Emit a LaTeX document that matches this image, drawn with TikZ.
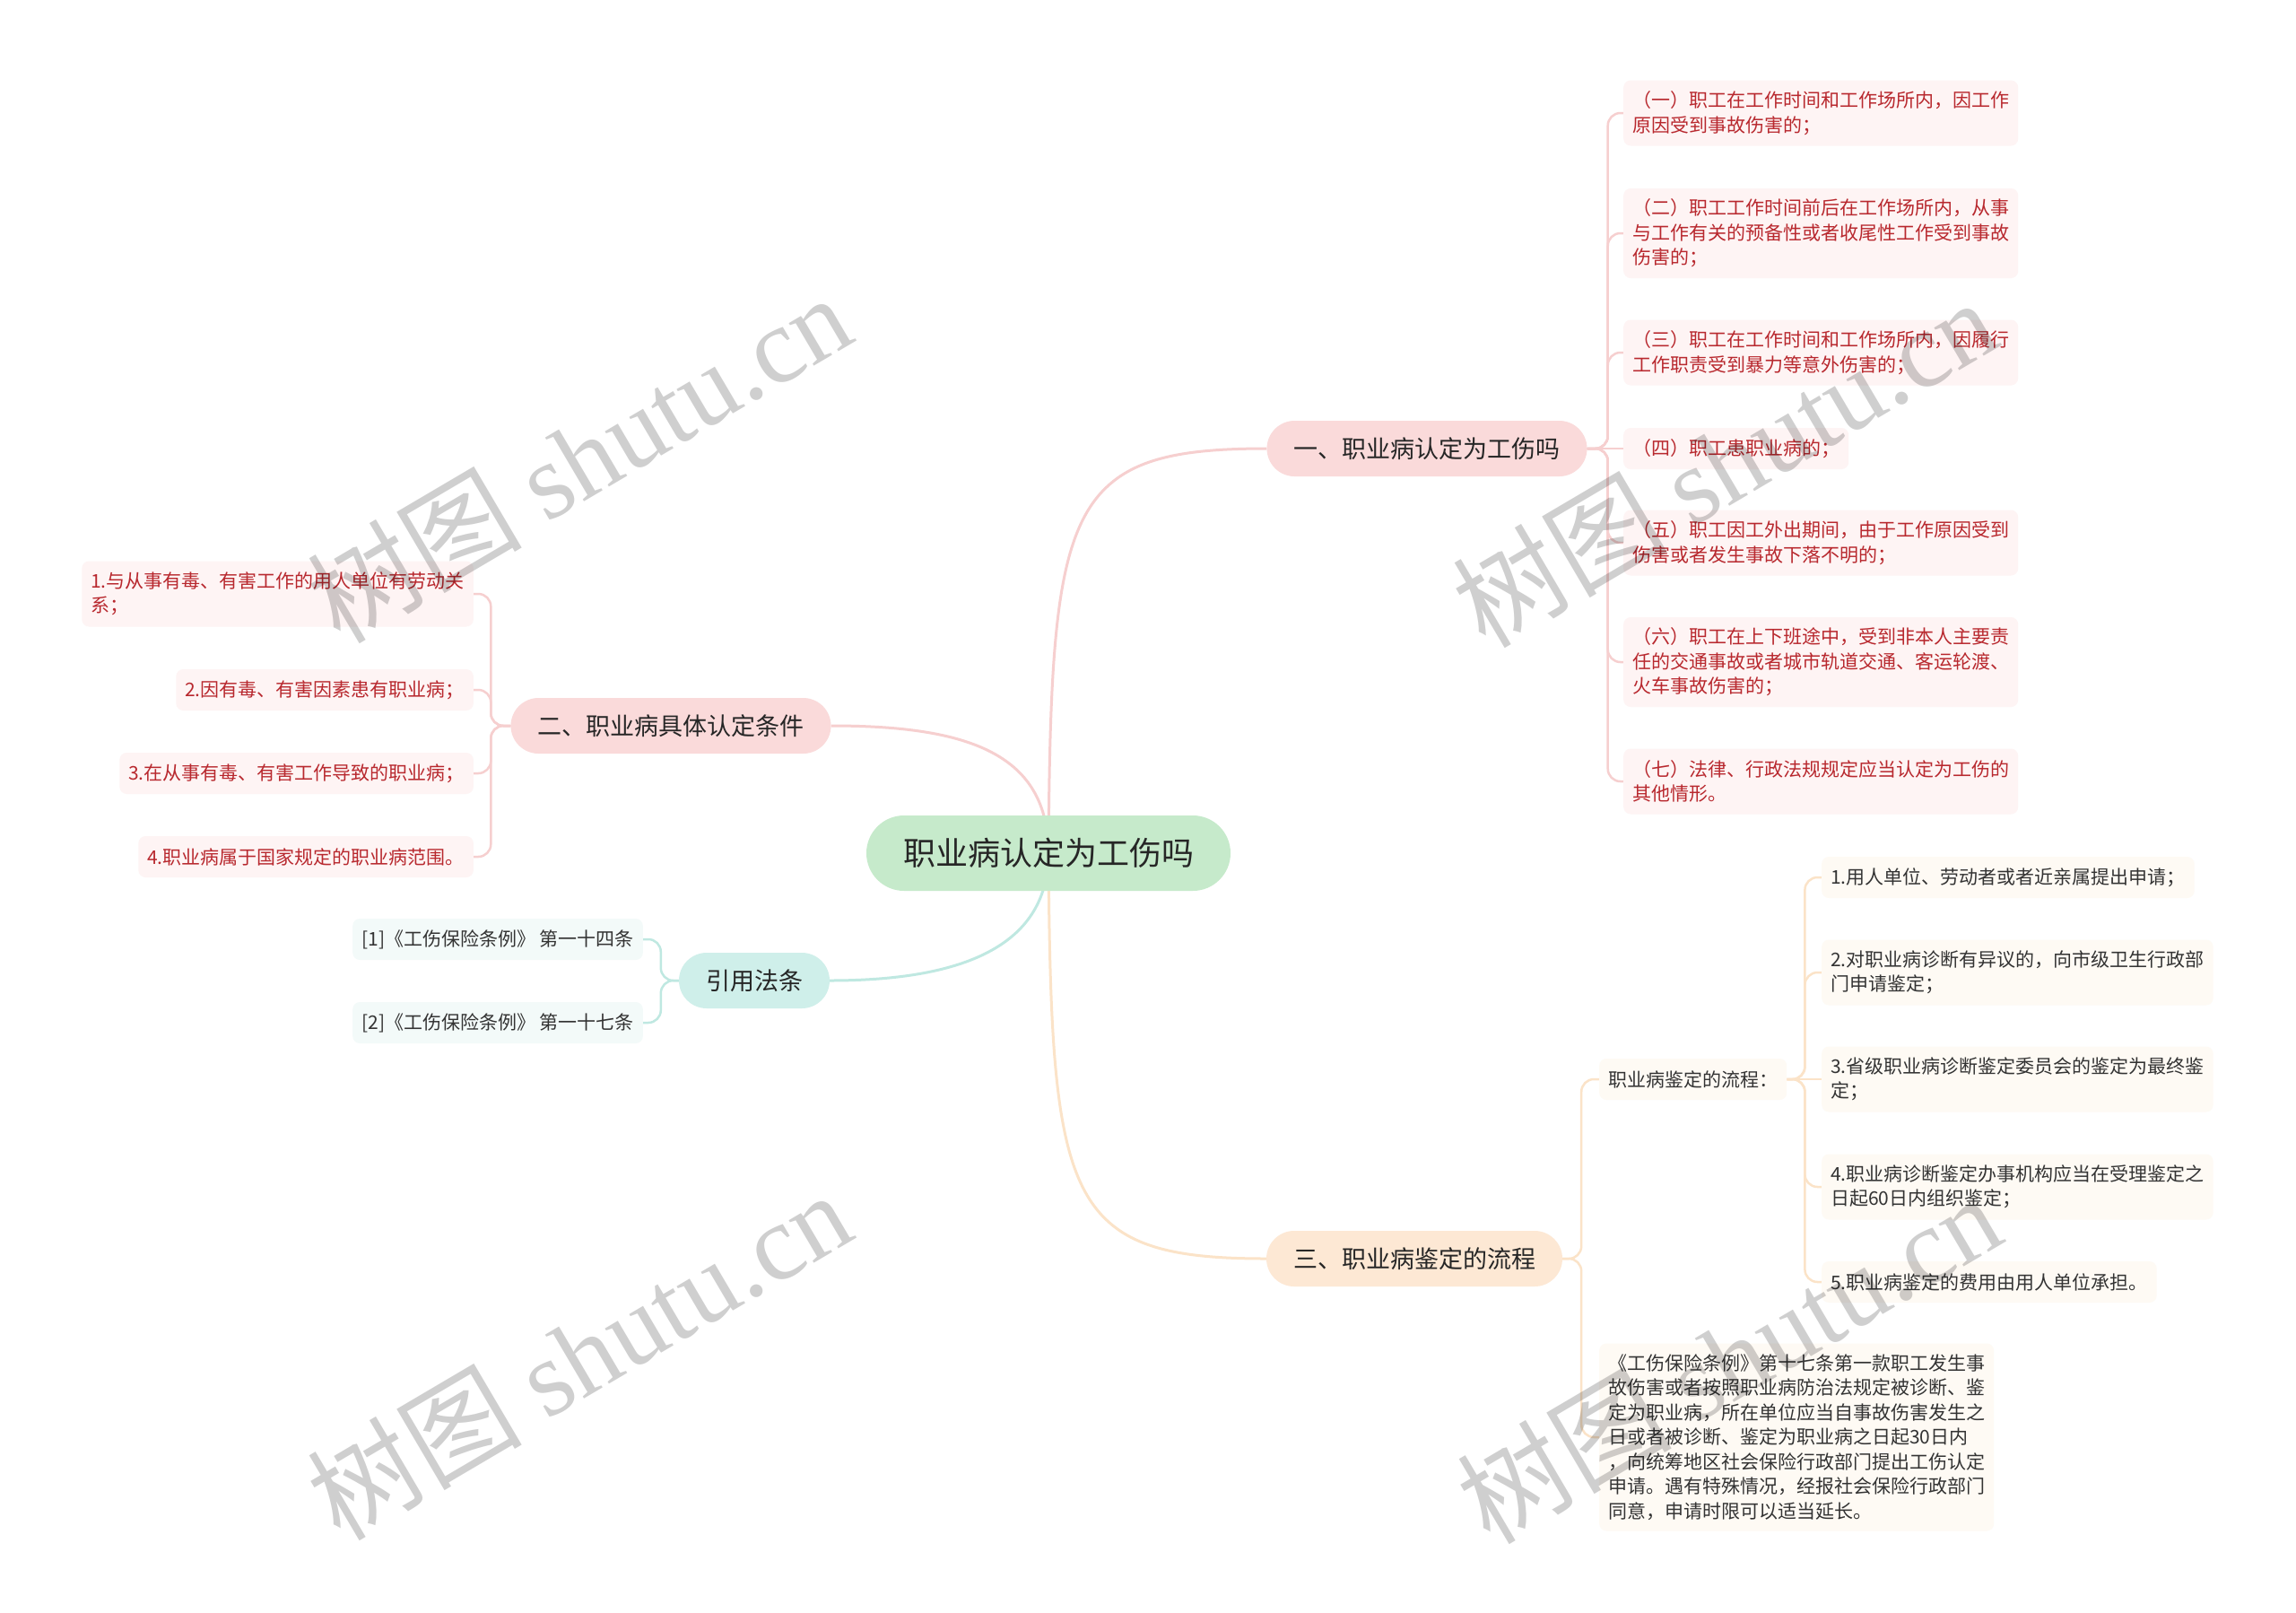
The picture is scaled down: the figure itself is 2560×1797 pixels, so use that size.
\documentclass[tikz,border=0pt]{standalone}
\usepackage{fontspec}
\usetikzlibrary{backgrounds}
\setmainfont{Noto Sans CJK SC}
\newfontfamily\wmlatin{Liberation Serif}
\definecolor{rootfill}{HTML}{C6EACB}
\definecolor{pinkfill}{HTML}{FADADA}
\definecolor{tealfill}{HTML}{CFEFEA}
\definecolor{peachfill}{HTML}{FDE8D4}
\definecolor{pinkleaf}{HTML}{FEF4F4}
\definecolor{tealleaf}{HTML}{F3FAF9}
\definecolor{peachleaf}{HTML}{FEFAF4}
\definecolor{redtext}{HTML}{B8282E}
\definecolor{darktext}{HTML}{333333}
\definecolor{pinkline}{HTML}{F6CFCF}
\definecolor{tealline}{HTML}{BFE8E1}
\definecolor{peachline}{HTML}{FBE3C8}
\begin{document}
\begin{tikzpicture}[x=1pt,y=-1pt,
  rootnode/.style={fill=rootfill, rounded corners=42, minimum height=84, inner xsep=41, inner ysep=0,
    text=black!85, font=\fontsize{36}{40}\selectfont},
  branchnode/.style={rounded corners=31, minimum height=62, inner xsep=30, inner ysep=0,
    text=black!85, font=\fontsize{27}{32}\selectfont},
  leafbase/.style={rounded corners=8, inner xsep=10, inner ysep=0, align=left,
    font=\fontsize{21}{27.5}\selectfont},
  leafred/.style={leafbase, fill=pinkleaf, text=redtext},
  leafteal/.style={leafbase, fill=tealleaf, text=darktext},
  leafpeach/.style={leafbase, fill=peachleaf, text=darktext},
  oneline/.style={minimum height=46},
  twoline/.style={minimum height=73},
  threeline/.style={minimum height=100},
  mainconn/.style={line width=3},
  subconn/.style={line width=2.5, rounded corners=14},
  watermark/.style={rotate=30.5, text=black, text opacity=0.19, inner sep=0, font=\fontsize{120}{120}\selectfont}
]
\useasboundingbox (0,0) rectangle (2560,1797);

% root and branches
\node[rootnode] (root) at (1169,951) {职业病认定为工伤吗};
\node[branchnode, fill=pinkfill] (b1) at (1591,500) {一、职业病认定为工伤吗};
\node[branchnode, fill=pinkfill] (b2) at (748,809) {二、职业病具体认定条件};
\node[branchnode, fill=tealfill] (b3) at (841,1093) {引用法条};
\node[branchnode, fill=peachfill] (b4) at (1577,1403) {三、职业病鉴定的流程};

% branch 1 leaves
\node[leafred, twoline, anchor=west] (l1) at (1810,126) {（一）职工在工作时间和工作场所内，因工作\\原因受到事故伤害的；};
\node[leafred, threeline, anchor=west] (l2) at (1810,260) {（二）职工工作时间前后在工作场所内，从事\\与工作有关的预备性或者收尾性工作受到事故\\伤害的；};
\node[leafred, twoline, anchor=west] (l3) at (1810,393) {（三）职工在工作时间和工作场所内，因履行\\工作职责受到暴力等意外伤害的；};
\node[leafred, oneline, anchor=west] (l4) at (1810,500) {（四）职工患职业病的；};
\node[leafred, twoline, anchor=west] (l5) at (1810,605) {（五）职工因工外出期间，由于工作原因受到\\伤害或者发生事故下落不明的；};
\node[leafred, threeline, anchor=west] (l6) at (1810,738) {（六）职工在上下班途中，受到非本人主要责\\任的交通事故或者城市轨道交通、客运轮渡、\\火车事故伤害的；};
\node[leafred, twoline, anchor=west] (l7) at (1810,871) {（七）法律、行政法规规定应当认定为工伤的\\其他情形。};

% branch 2 leaves
\node[leafred, twoline, anchor=east] (m1) at (528,662) {1.与从事有毒、有害工作的用人单位有劳动关\\系；};
\node[leafred, oneline, anchor=east] (m2) at (528,769) {2.因有毒、有害因素患有职业病；};
\node[leafred, oneline, anchor=east] (m3) at (528,862) {3.在从事有毒、有害工作导致的职业病；};
\node[leafred, oneline, anchor=east] (m4) at (528,955) {4.职业病属于国家规定的职业病范围。};

% branch 3 leaves
\node[leafteal, oneline, anchor=east] (r1) at (717,1047) {[1]《工伤保险条例》 第一十四条};
\node[leafteal, oneline, anchor=east] (r2) at (717,1140) {[2]《工伤保险条例》 第一十七条};

% branch 4 children
\node[leafpeach, oneline, anchor=west] (p) at (1783,1203) {职业病鉴定的流程：};
\node[leafpeach, minimum height=209, anchor=west] (q) at (1783,1602) {《工伤保险条例》第十七条第一款职工发生事\\故伤害或者按照职业病防治法规定被诊断、鉴\\定为职业病，所在单位应当自事故伤害发生之\\日或者被诊断、鉴定为职业病之日起30日内\\，向统筹地区社会保险行政部门提出工伤认定\\申请。遇有特殊情况，经报社会保险行政部门\\同意，申请时限可以适当延长。};

\node[leafpeach, oneline, anchor=west] (s1) at (2031,978) {1.用人单位、劳动者或者近亲属提出申请；};
\node[leafpeach, twoline, anchor=west] (s2) at (2031,1084) {2.对职业病诊断有异议的，向市级卫生行政部\\门申请鉴定；};
\node[leafpeach, twoline, anchor=west] (s3) at (2031,1203) {3.省级职业病诊断鉴定委员会的鉴定为最终鉴\\定；};
\node[leafpeach, twoline, anchor=west] (s4) at (2031,1323) {4.职业病诊断鉴定办事机构应当在受理鉴定之\\日起60日内组织鉴定；};
\node[leafpeach, oneline, anchor=west] (s5) at (2031,1429) {5.职业病鉴定的费用由用人单位承担。};

% connectors (behind nodes)
\begin{scope}[on background layer]
  \fill[white] (0,0) rectangle (2560,1797);
  % main connectors
  \draw[mainconn, pinkline] (root.center) .. controls +(3,-390) and +(-225,0) .. (b1.west);
  \draw[mainconn, pinkline] (root.center) .. controls +(0,-110) and +(155,0) .. (b2.east);
  \draw[mainconn, tealline] (root.center) .. controls +(0,100) and +(155,0) .. (b3.east);
  \draw[mainconn, peachline] (root.center) .. controls +(3,390) and +(-225,0) .. (b4.west);
  % branch 1
  \foreach \n in {l1,l2,l3,l5,l6,l7}
    \draw[subconn, pinkline] (b1.east) -- ++(23,0) |- (\n.west);
  \draw[subconn, pinkline] (b1.east) -- (l4.west);
  % branch 2
  \foreach \n in {m1,m2,m3,m4}
    \draw[subconn, pinkline] (b2.west) -- ++(-22,0) |- (\n.east);
  % branch 3
  \foreach \n in {r1,r2}
    \draw[subconn, tealline] (b3.west) -- ++(-20,0) |- (\n.east);
  % branch 4
  \foreach \n in {p,q}
    \draw[subconn, peachline] (b4.east) -- ++(21,0) |- (\n.west);
  \foreach \n in {s1,s2,s4,s5}
    \draw[subconn, peachline] (p.east) -- ++(20,0) |- (\n.west);
  \draw[subconn, peachline] (p.east) -- (s3.west);
\end{scope}

% watermarks
\node[watermark] (w1) at (645,510) {树图 {\wmlatin shutu.cn}};
\node[watermark] (w2) at (1922,515) {树图 {\wmlatin shutu.cn}};
\node[watermark] (w3) at (645,1510) {树图 {\wmlatin shutu.cn}};
\node[watermark] (w4) at (1927,1514) {树图 {\wmlatin shutu.cn}};
\end{tikzpicture}
\end{document}
